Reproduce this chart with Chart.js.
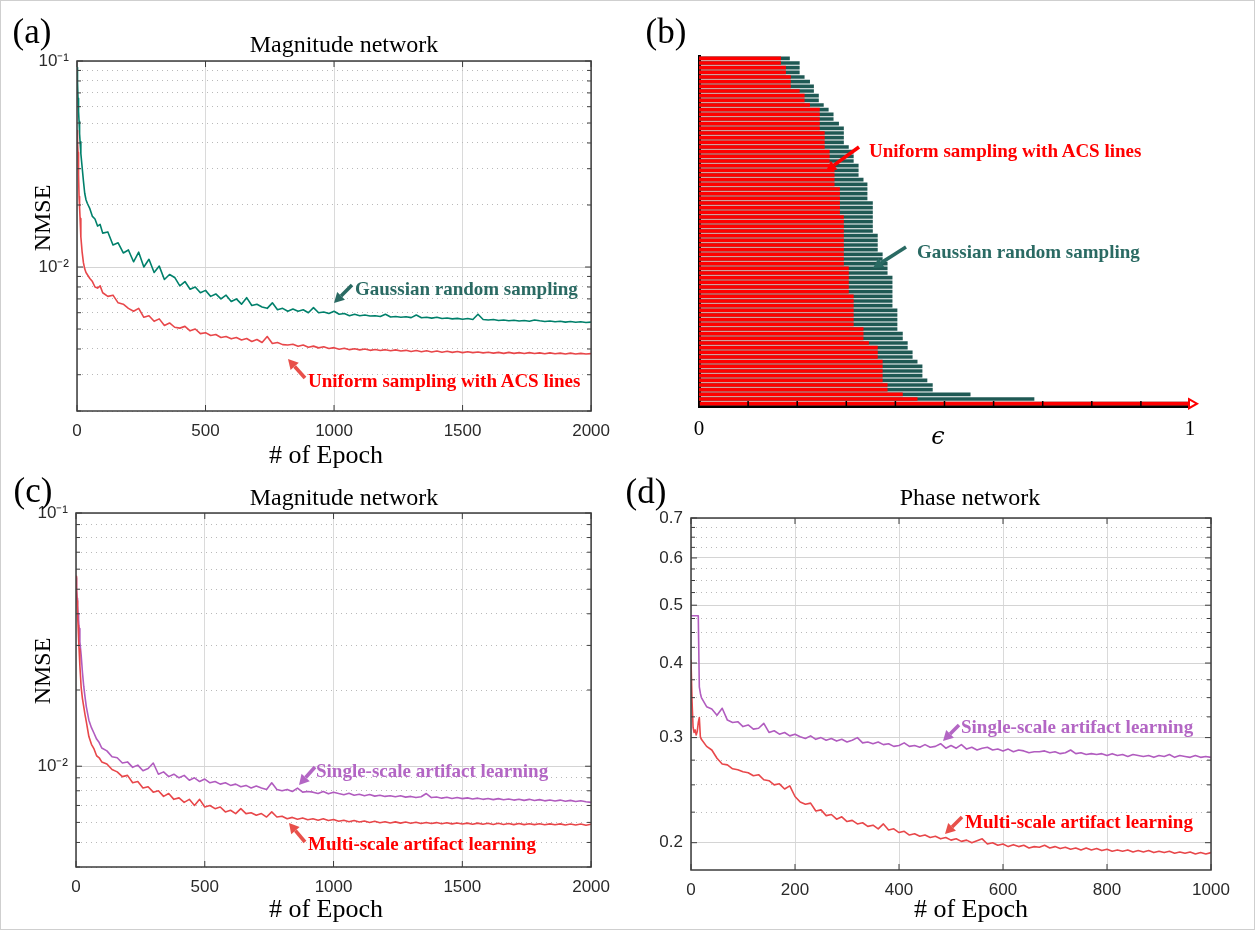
<!DOCTYPE html>
<html><head><meta charset="utf-8">
<script src="https://cdn.jsdelivr.net/npm/chart.js@4.4.1/dist/chart.umd.min.js"></script>
<style>
html,body{margin:0;padding:0;background:#fff;}
#fig{position:relative;width:1257px;height:931px;overflow:hidden;background:#fff;}
#frame{position:absolute;left:0;top:0;width:1253px;height:928px;border:1px solid #cfcfcf;}
canvas{position:absolute;}
.t{position:absolute;white-space:nowrap;line-height:1;font-family:"Liberation Serif","Times New Roman",serif;color:#000;}
svg{position:absolute;left:0;top:0;}
</style></head><body>
<div id="fig">
<div id="frame"></div>
<canvas id="ca" width="620" height="470" style="left:0;top:0;width:620px;height:470px"></canvas>
<canvas id="cb" width="637" height="470" style="left:620px;top:0;width:637px;height:470px"></canvas>
<canvas id="cc" width="620" height="461" style="left:0;top:470px;width:620px;height:461px"></canvas>
<canvas id="cd" width="637" height="461" style="left:620px;top:470px;width:637px;height:461px"></canvas>
</div>
<script>
// ---------------- DATA ----------------
const epochsAC = [0,2,4,6,8,10,12,15,20,25,30,35,40,50,60,70,80,90,
100,120,140,160,180,200,220,240,260,280,
300,320,340,360,380,400,420,440,460,480,
500,520,540,560,580,600,620,640,660,680,
700,720,740,760,780,800,820,840,860,880,
900,920,940,960,980,1000,1020,1040,1060,1080,
1100,1120,1140,1160,1180,1200,1220,1240,1260,1280,
1300,1320,1340,1360,1380,1400,1420,1440,1460,1480,
1500,1520,1540,1560,1580,1600,1620,1640,1660,1680,
1700,1720,1740,1760,1780,1800,1820,1840,1860,1880,
1900,1920,1940,1960,1980,2000];

// (a) Magnitude network
const aGaussian = [0.093,0.079,0.066,0.057,0.051,0.0445,0.0405,0.0355,0.0305,0.0262,0.0228,0.0212,0.0204,0.0192,0.0176,0.0171,0.0158,0.0161,
0.0146,0.0148,0.0128,0.0131,0.0117,0.0121,0.0106,0.0118,0.0100,0.0109,
0.0094,0.0101,0.0087,0.0092,0.0089,0.0081,0.0085,0.0078,0.0080,0.0075,
0.0077,0.0072,0.0074,0.0070,0.0073,0.0068,0.0070,0.0066,0.0071,0.0065,
0.0066,0.0064,0.0063,0.0067,0.0062,0.0063,0.0061,0.00625,0.0061,0.0062,
0.0060,0.00635,0.0060,0.00605,0.00595,0.0061,0.0059,0.00595,0.0058,0.0059,
0.0058,0.00585,0.00578,0.0058,0.00575,0.0059,0.00572,0.00575,0.0057,0.00574,
0.00568,0.00585,0.00567,0.0057,0.00565,0.0057,0.00562,0.00566,0.0056,0.00563,
0.00558,0.00562,0.00556,0.0059,0.00556,0.00553,0.00556,0.0055,0.00553,0.00548,
0.00552,0.00547,0.0055,0.00545,0.00553,0.00548,0.00544,0.00547,0.00542,0.00545,
0.0054,0.00544,0.00539,0.00542,0.00538,0.0054];
const aUniform = [0.046,0.041,0.036,0.028,0.022,0.0195,0.0172,0.0140,0.0118,0.0105,0.0098,0.0094,0.0092,0.0088,0.0085,0.0080,0.0079,0.0081,
0.0075,0.0072,0.0073,0.0067,0.0066,0.0063,0.0061,0.0063,0.0057,0.0058,
0.00545,0.0056,0.0052,0.00535,0.0051,0.00505,0.00515,0.0049,0.0050,0.00475,
0.0048,0.00465,0.0047,0.00455,0.0046,0.00448,0.00455,0.00442,0.0045,0.00435,
0.00445,0.0043,0.0046,0.00425,0.0043,0.0042,0.00418,0.00422,0.00412,0.00418,
0.00408,0.00413,0.00405,0.0041,0.00402,0.00406,0.00399,0.00403,0.00397,0.00401,
0.00396,0.004,0.00394,0.00398,0.00393,0.00397,0.00392,0.00396,0.00391,0.00394,
0.00389,0.00393,0.00388,0.00392,0.00387,0.00391,0.00386,0.0039,0.00385,0.00389,
0.00384,0.00388,0.00384,0.00387,0.00383,0.00386,0.00382,0.00385,0.00381,0.00385,
0.00381,0.00384,0.0038,0.00384,0.0038,0.00383,0.00379,0.00383,0.00379,0.00382,
0.00378,0.00382,0.00378,0.00381,0.00378,0.0038];

// (c) Magnitude network
const cSingle = [0.0555,0.050,0.046,0.043,0.040,0.038,0.035,0.031,0.0275,0.0235,0.0207,0.0188,0.0172,0.0152,0.0142,0.0135,0.0128,0.0124,
0.0118,0.0115,0.0109,0.0108,0.0103,0.0104,0.0099,0.0101,0.0096,0.0098,
0.0103,0.0093,0.0095,0.0091,0.0093,0.0090,0.0092,0.0088,0.0090,0.0087,
0.0089,0.0086,0.0087,0.0085,0.0086,0.0084,0.0085,0.0083,0.0084,0.0082,
0.00835,0.0082,0.0081,0.0086,0.0081,0.0080,0.0081,0.00795,0.0082,0.0079,
0.00795,0.0079,0.0078,0.00795,0.00778,0.0079,0.0078,0.00772,0.00782,0.00768,
0.00775,0.00765,0.00773,0.00762,0.00768,0.0076,0.00765,0.00758,0.00764,0.00755,
0.0076,0.00752,0.00758,0.0078,0.00752,0.00756,0.00748,0.00754,0.00746,0.00752,
0.00745,0.0075,0.00742,0.00748,0.0074,0.00746,0.00738,0.00745,0.00737,0.00742,
0.00735,0.00741,0.00733,0.0074,0.00732,0.00738,0.0073,0.00736,0.00729,0.00735,
0.00727,0.00733,0.00726,0.00731,0.00724,0.0072];
const cMulti = [0.0562,0.050,0.045,0.040,0.036,0.032,0.029,0.025,0.0205,0.0185,0.0172,0.0160,0.0150,0.0131,0.0122,0.0117,0.0110,0.0108,
0.0104,0.0102,0.0097,0.0095,0.0091,0.0092,0.0086,0.0087,0.0082,0.0083,
0.0079,0.0080,0.0076,0.0078,0.0074,0.0075,0.0072,0.0074,0.0070,0.0074,
0.0069,0.0070,0.0068,0.0069,0.0066,0.0067,0.0065,0.0068,0.0065,0.00655,
0.0064,0.0065,0.0063,0.0066,0.0063,0.00635,0.0062,0.00628,0.00618,0.00625,
0.00615,0.0062,0.00612,0.0062,0.0061,0.00616,0.00606,0.00612,0.00604,0.0061,
0.00602,0.00608,0.006,0.00606,0.00598,0.00604,0.00597,0.00603,0.00596,0.00602,
0.00595,0.00601,0.00594,0.006,0.00594,0.00599,0.00593,0.00598,0.00592,0.00597,
0.00591,0.00596,0.0059,0.00596,0.0059,0.00595,0.00589,0.00595,0.00589,0.00594,
0.00588,0.00594,0.00588,0.00593,0.00588,0.00593,0.00587,0.00592,0.00587,0.00592,
0.00586,0.00591,0.00586,0.00591,0.00585,0.0059];

// (d) Phase network
const epochsD = [0,2,4,6,8,10,12,14,16,18,20,
30,40,50,60,70,80,90,100,110,120,
130,140,150,160,170,180,190,200,210,220,
230,240,250,260,270,280,290,300,310,320,
330,340,350,360,370,380,390,400,410,420,
430,440,450,460,470,480,490,500,510,520,
530,540,550,560,570,580,590,600,610,620,
630,640,650,660,670,680,690,700,710,720,
730,740,750,760,770,780,790,800,810,820,
830,840,850,860,870,880,890,900,910,920,
930,940,950,960,970,980,990,1000];
const dSingle = [0.48,0.48,0.48,0.48,0.48,0.48,0.48,0.48,0.365,0.356,0.35,
0.338,0.335,0.327,0.336,0.321,0.318,0.319,0.313,0.315,0.310,
0.311,0.317,0.306,0.308,0.304,0.306,0.302,0.304,0.301,0.299,
0.302,0.298,0.300,0.297,0.299,0.296,0.298,0.295,0.297,0.300,
0.294,0.295,0.293,0.295,0.292,0.293,0.290,0.291,0.294,0.290,
0.291,0.289,0.292,0.289,0.290,0.293,0.288,0.291,0.288,0.292,
0.287,0.289,0.286,0.288,0.289,0.286,0.287,0.285,0.287,0.284,
0.286,0.285,0.283,0.284,0.284,0.285,0.283,0.284,0.282,0.283,
0.286,0.282,0.283,0.281,0.282,0.281,0.282,0.280,0.282,0.280,
0.281,0.279,0.281,0.280,0.279,0.280,0.278,0.280,0.279,0.281,
0.278,0.280,0.279,0.278,0.280,0.278,0.279,0.278];
const dMulti = [0.405,0.345,0.312,0.306,0.309,0.303,0.307,0.318,0.324,0.301,0.298,
0.290,0.286,0.277,0.271,0.270,0.266,0.265,0.263,0.262,0.259,
0.260,0.255,0.254,0.250,0.251,0.246,0.249,0.239,0.234,0.232,
0.233,0.226,0.227,0.222,0.223,0.219,0.221,0.217,0.218,0.215,
0.216,0.213,0.214,0.211,0.215,0.210,0.211,0.208,0.209,0.206,
0.207,0.205,0.206,0.204,0.205,0.203,0.204,0.202,0.203,0.201,
0.202,0.200,0.2015,0.203,0.199,0.200,0.198,0.199,0.197,0.1985,
0.197,0.198,0.196,0.197,0.1965,0.198,0.196,0.197,0.1955,0.1965,
0.195,0.196,0.1945,0.196,0.1945,0.1955,0.194,0.195,0.1935,0.1945,
0.1935,0.1945,0.193,0.194,0.193,0.194,0.1925,0.1935,0.1925,0.1935,
0.192,0.193,0.192,0.193,0.1915,0.1925,0.1915,0.1925];

// (b) error distribution per slice (top row first)
const gaussianEps = [0.185,0.205,0.205,0.205,0.215,0.226,0.234,0.234,0.244,0.244,
0.254,0.264,0.274,0.274,0.285,0.295,0.295,0.295,0.295,0.305,
0.315,0.315,0.315,0.325,0.325,0.325,0.335,0.343,0.343,0.343,
0.343,0.354,0.354,0.354,0.354,0.354,0.354,0.354,0.364,0.364,
0.364,0.364,0.374,0.374,0.384,0.384,0.384,0.394,0.394,0.394,
0.394,0.394,0.394,0.394,0.404,0.404,0.404,0.404,0.404,0.415,
0.415,0.425,0.425,0.435,0.435,0.445,0.455,0.455,0.455,0.465,
0.476,0.476,0.553,0.683,1.0];
const uniformEps = [0.167,0.167,0.177,0.177,0.187,0.187,0.187,0.205,0.215,0.215,
0.226,0.246,0.246,0.246,0.246,0.246,0.256,0.256,0.256,0.256,
0.266,0.266,0.266,0.266,0.276,0.276,0.276,0.276,0.287,0.287,
0.287,0.287,0.287,0.287,0.295,0.295,0.295,0.295,0.295,0.295,
0.295,0.295,0.295,0.295,0.295,0.305,0.305,0.305,0.305,0.305,
0.305,0.315,0.315,0.315,0.315,0.315,0.315,0.315,0.335,0.335,
0.335,0.346,0.364,0.364,0.364,0.374,0.374,0.374,0.374,0.374,
0.384,0.384,0.415,0.445,1.0];

// tick values / labels
const aYTicks = [0.002,0.003,0.004,0.005,0.006,0.007,0.008,0.009,0.01,0.02,0.03,0.04,0.05,0.06,0.07,0.08,0.09,0.1];
const aYLabels = ['','','','','','','','','10\u207B\u00B2','','','','','','','','','10\u207B\u00B9'];
const aYMajor  = [0,0,0,0,0,0,0,0,1,0,0,0,0,0,0,0,0,1];
const cYTicks = [0.004,0.005,0.006,0.007,0.008,0.009,0.01,0.02,0.03,0.04,0.05,0.06,0.07,0.08,0.09,0.1];
const cYLabels = ['','','','','','','10\u207B\u00B2','','','','','','','','','10\u207B\u00B9'];
const cYMajor  = [0,0,0,0,0,0,1,0,0,0,0,0,0,0,0,1];
const dYTicks = [0.2,0.225,0.25,0.275,0.3,0.325,0.35,0.375,0.4,0.425,0.45,0.475,0.5,0.525,0.55,0.575,0.6,0.625,0.65,0.675,0.7];
const dYLabels = ['0.2','','','','0.3','','','','0.4','','','','0.5','','','','0.6','','','','0.7'];
const dYMajor  = [1,0,0,0,1,0,0,0,1,0,0,0,1,0,0,0,1,0,0,0,1];
const epsTicks = [0,0.1,0.2,0.3,0.4,0.5,0.6,0.7,0.8,0.9,1];
const epsLabels = ['0','','','','','','','','','','1'];

// ---------------- STYLE ----------------
const GREEN = '#00806b', RED = '#e8474a', PURPLE = '#b15cbf';
const TEAL_BAR = '#1f5954', RED_BAR = '#ff0000';
const TICKFONT = {family: "'Liberation Sans', Arial, sans-serif", size: 17};

const boxPlugin = {
  id: 'mbox',
  afterDatasetsDraw(chart) {
    const {ctx, chartArea: a, scales} = chart;
    const ln = (x1, y1, x2, y2) => { ctx.beginPath(); ctx.moveTo(x1, y1); ctx.lineTo(x2, y2); ctx.stroke(); };
    ctx.save();
    ctx.strokeStyle = '#3c3c3c';
    ctx.lineWidth = 1;
    scales.x.ticks.forEach(t => {
      const px = scales.x.getPixelForValue(t.value);
      ln(px, a.bottom, px, a.bottom - 6); ln(px, a.top, px, a.top + 6);
    });
    scales.y.ticks.forEach(t => {
      const py = scales.y.getPixelForValue(t.value);
      const L = t.major ? 6 : 4;
      ln(a.left, py, a.left + L, py); ln(a.right, py, a.right - L, py);
    });
    ctx.lineWidth = 1.5;
    ctx.strokeRect(a.left, a.top, a.right - a.left, a.bottom - a.top);
    ctx.restore();
  }
};

function lineChart(id, W, H, area, epochs, series, xMax, xStep, yMin, yMax, yTicks, yLabels, yMajor) {
  return new Chart(document.getElementById(id), {
    type: 'line',
    data: {
      datasets: series.map(s => ({
        data: epochs.map((e, i) => ({x: e, y: s.values[i]})),
        borderColor: s.color, borderWidth: 1.6, pointRadius: 0, tension: 0, fill: false,
        borderJoinStyle: 'round'
      }))
    },
    options: {
      responsive: false, animation: false, events: [],
      layout: {padding: {left: 0, right: W - area.right, top: area.top, bottom: 0}},
      plugins: {legend: {display: false}, tooltip: {enabled: false}},
      scales: {
        x: {
          type: 'linear', min: 0, max: xMax,
          afterFit: s => { s.height = H - area.bottom; },
          ticks: {stepSize: xStep, autoSkip: false, maxRotation: 0, font: TICKFONT, color: '#2a2a2a', padding: 10,
                  callback: v => String(v)},
          grid: {color: '#dadada', lineWidth: 1, drawTicks: false},
          border: {display: false, dash: []}
        },
        y: {
          type: 'logarithmic', min: yMin, max: yMax,
          afterBuildTicks: s => { s.ticks = yTicks.map((v, i) => ({value: v, major: !!yMajor[i]})); },
          afterFit: s => { s.width = area.left; },
          ticks: {autoSkip: false, font: TICKFONT, color: '#2a2a2a', padding: 8,
                  callback: (v, i) => yLabels[i]},
          grid: {color: c => (c.tick && c.tick.major) ? '#d4d4d4' : '#b9b9b9', lineWidth: 1, drawTicks: false},
          border: {display: false, dash: c => (c.tick && !c.tick.major) ? [1, 4] : []}
        }
      }
    },
    plugins: [boxPlugin]
  });
}

// (a)
lineChart('ca', 620, 470, {left: 77, right: 596, top: 61, bottom: 411}, epochsAC,
  [{values: aUniform, color: RED}, {values: aGaussian, color: GREEN}],
  2000, 500, 0.002, 0.1, aYTicks, aYLabels, aYMajor);
// (c)
lineChart('cc', 620, 461, {left: 76, right: 594, top: 43, bottom: 397}, epochsAC,
  [{values: cMulti, color: RED}, {values: cSingle, color: PURPLE}],
  2000, 500, 0.004, 0.1, cYTicks, cYLabels, cYMajor);
// (d)
lineChart('cd', 637, 461, {left: 71, right: 591, top: 48, bottom: 400}, epochsD,
  [{values: dMulti, color: RED}, {values: dSingle, color: PURPLE}],
  1000, 200, 0.18, 0.7, dYTicks, dYLabels, dYMajor);

// (b)
const barPlugin = {
  id: 'barDeco',
  afterDatasetsDraw(chart) {
    const {ctx, chartArea: a, scales} = chart;
    ctx.save();
    ctx.strokeStyle = '#000'; ctx.lineWidth = 1.5;
    scales.x.ticks.forEach(t => {
      const px = scales.x.getPixelForValue(t.value);
      ctx.beginPath(); ctx.moveTo(px, a.bottom); ctx.lineTo(px, a.bottom - 5); ctx.stroke();
    });
    const meta = chart.getDatasetMeta(0);
    const bar = meta.data[meta.data.length - 1];
    ctx.strokeStyle = RED_BAR; ctx.lineWidth = 2; ctx.fillStyle = '#fff';
    ctx.beginPath();
    ctx.moveTo(bar.x - 1, bar.y - 4.5); ctx.lineTo(bar.x + 7, bar.y); ctx.lineTo(bar.x - 1, bar.y + 4.5); ctx.closePath();
    ctx.fill(); ctx.stroke();
    ctx.restore();
  }
};
new Chart(document.getElementById('cb'), {
  type: 'bar',
  data: {
    labels: uniformEps.map((_, i) => String(i + 1)),
    datasets: [
      {data: uniformEps, backgroundColor: RED_BAR, borderWidth: 0, grouped: false, barPercentage: 0.78, categoryPercentage: 1},
      {data: gaussianEps, backgroundColor: TEAL_BAR, borderWidth: 0, grouped: false, barPercentage: 0.78, categoryPercentage: 1}
    ]
  },
  options: {
    indexAxis: 'y', responsive: false, animation: false, events: [],
    layout: {padding: {left: 79, right: 637 - 570, top: 56, bottom: 0}},
    plugins: {legend: {display: false}, tooltip: {enabled: false}},
    scales: {
      x: {
        type: 'linear', min: 0, max: 1,
        afterBuildTicks: s => { s.ticks = epsTicks.map(v => ({value: v})); },
        afterFit: s => { s.height = 470 - 406; },
        ticks: {autoSkip: false, maxRotation: 0, padding: 11, color: '#000',
                font: {family: "'Liberation Serif', serif", size: 21}, callback: (v, i) => epsLabels[i]},
        grid: {display: false, drawTicks: false},
        border: {display: true, color: '#000', width: 3}
      },
      y: {
        type: 'category',
        afterFit: s => { s.width = 0; },
        ticks: {display: false},
        grid: {display: false, drawTicks: false},
        border: {display: true, color: '#000', width: 3}
      }
    }
  },
  plugins: [barPlugin]
});

// ---------------- TEXT & ARROWS ----------------
const fig = document.getElementById('fig');
const C = 'translate(-50%,-50%)', L = 'translate(0,-50%)';
function txt(s, x, y, css, tf) {
  const e = document.createElement('div');
  e.className = 't';
  e.textContent = s;
  e.style.cssText += css;
  e.style.left = x + 'px'; e.style.top = y + 'px';
  e.style.transform = tf;
  fig.appendChild(e);
}
txt('(a)', 32, 31, 'font-size:35px', C);
txt('(b)', 666, 31, 'font-size:35px', C);
txt('(c)', 33, 490, 'font-size:35px', C);
txt('(d)', 646, 491, 'font-size:35px', C);
txt('Magnitude network', 344, 44, 'font-size:24px', C);
txt('Magnitude network', 344, 497, 'font-size:24px', C);
txt('Phase network', 970, 497, 'font-size:24px', C);
txt('# of Epoch', 326, 455, 'font-size:26px', C);
txt('# of Epoch', 326, 909, 'font-size:26px', C);
txt('# of Epoch', 971, 909, 'font-size:26px', C);
txt('NMSE', 41.5, 217.5, 'font-size:24px', C + ' rotate(-90deg)');
txt('NMSE', 41.5, 671, 'font-size:24px', C + ' rotate(-90deg)');
txt('\u03F5', 938, 436, 'font-size:24px;font-style:italic;font-family:"DejaVu Serif",serif', C);

const TEAL_T = '#2a6a63', RED_T = '#ff0000', PURPLE_T = '#b366c4';
txt('Gaussian random sampling', 355, 288, 'font-weight:bold;font-size:19px;color:' + TEAL_T, L);
txt('Uniform sampling with ACS lines', 308, 380, 'font-weight:bold;font-size:19px;color:' + RED_T, L);
txt('Uniform sampling with ACS lines', 869, 150, 'font-weight:bold;font-size:19px;color:' + RED_T, L);
txt('Gaussian random sampling', 917, 251, 'font-weight:bold;font-size:19px;color:' + TEAL_T, L);
txt('Single-scale artifact learning', 316, 770, 'font-weight:bold;font-size:19px;color:' + PURPLE_T, L);
txt('Multi-scale artifact learning', 308, 843, 'font-weight:bold;font-size:19px;color:' + RED_T, L);
txt('Single-scale artifact learning', 961, 726, 'font-weight:bold;font-size:19px;color:' + PURPLE_T, L);
txt('Multi-scale artifact learning', 965, 821, 'font-weight:bold;font-size:19px;color:' + RED_T, L);

const NS = 'http://www.w3.org/2000/svg';
const svg = document.createElementNS(NS, 'svg');
svg.setAttribute('width', 1257); svg.setAttribute('height', 931);
fig.appendChild(svg);
function arrow(x1, y1, x2, y2, color) {
  const dx = x2 - x1, dy = y2 - y1, len = Math.hypot(dx, dy), ux = dx / len, uy = dy / len;
  const hl = 10, hw = 5.5;
  const bx = x2 - ux * hl, by = y2 - uy * hl;
  const l = document.createElementNS(NS, 'line');
  l.setAttribute('x1', x1); l.setAttribute('y1', y1); l.setAttribute('x2', bx); l.setAttribute('y2', by);
  l.setAttribute('stroke', color); l.setAttribute('stroke-width', 3.6);
  svg.appendChild(l);
  const p = document.createElementNS(NS, 'polygon');
  p.setAttribute('points', `${x2},${y2} ${bx - uy * hw},${by + ux * hw} ${bx + uy * hw},${by - ux * hw}`);
  p.setAttribute('fill', color);
  svg.appendChild(p);
}
arrow(352, 285, 334, 303, TEAL_T);
arrow(305, 378, 288, 359, '#e8504a');
arrow(859, 147, 826, 171, '#ff0000');
arrow(906, 247, 873, 268, TEAL_T);
arrow(315, 767, 299, 785, PURPLE_T);
arrow(305, 842, 289, 823, '#e8504a');
arrow(959, 725, 943, 741, PURPLE_T);
arrow(962, 817, 945, 834, '#e8504a');
</script>
</body></html>
